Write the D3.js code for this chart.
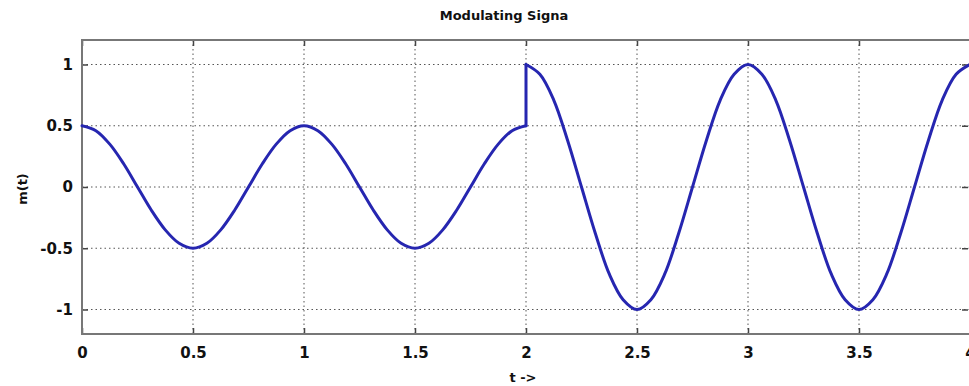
<!DOCTYPE html>
<html>
<head>
<meta charset="utf-8">
<script src="https://cdn.jsdelivr.net/npm/d3@7"></script>
<style>
  body { margin: 0; background: #fff; }
  text { font-family: "DejaVu Sans", sans-serif; font-weight: bold; fill: #111; }
</style>
</head>
<body>
<svg id="chart" width="969" height="386"></svg>
<script>
// t values (every 1/16 s), first half and second half
const tFirst = [0, 0.0625, 0.125, 0.1875, 0.25, 0.3125, 0.375, 0.4375, 0.5, 0.5625, 0.625, 0.6875, 0.75, 0.8125, 0.875, 0.9375,
  1, 1.0625, 1.125, 1.1875, 1.25, 1.3125, 1.375, 1.4375, 1.5, 1.5625, 1.625, 1.6875, 1.75, 1.8125, 1.875, 1.9375, 2];
const mFirst = [0.5, 0.46, 0.35, 0.19, 0, -0.19, -0.35, -0.46, -0.5, -0.46, -0.35, -0.19, 0, 0.19, 0.35, 0.46,
  0.5, 0.46, 0.35, 0.19, 0, -0.19, -0.35, -0.46, -0.5, -0.46, -0.35, -0.19, 0, 0.19, 0.35, 0.46, 0.5];
const tSecond = [2, 2.0625, 2.125, 2.1875, 2.25, 2.3125, 2.375, 2.4375, 2.5, 2.5625, 2.625, 2.6875, 2.75, 2.8125, 2.875, 2.9375,
  3, 3.0625, 3.125, 3.1875, 3.25, 3.3125, 3.375, 3.4375, 3.5, 3.5625, 3.625, 3.6875, 3.75, 3.8125, 3.875, 3.9375, 4];
const mSecond = [1, 0.92, 0.71, 0.38, 0, -0.38, -0.71, -0.92, -1, -0.92, -0.71, -0.38, 0, 0.38, 0.71, 0.92,
  1, 0.92, 0.71, 0.38, 0, -0.38, -0.71, -0.92, -1, -0.92, -0.71, -0.38, 0, 0.38, 0.71, 0.92, 1];
const xTicks = [0, 0.5, 1, 1.5, 2, 2.5, 3, 3.5, 4];
const yTicks = [-1, -0.5, 0, 0.5, 1];

const svg = d3.select("#chart");
const plotL = 82, plotR = 970, plotT = 40, plotB = 334;

const x = d3.scaleLinear().domain([0, 4]).range([plotL, plotR]);
const y = d3.scaleLinear().domain([-1.2, 1.2]).range([plotB, plotT]);

const fmt = d => String(d); // plain hyphen minus like matlab

// dotted grid
const grid = svg.append("g")
  .attr("stroke", "#555")
  .attr("stroke-width", 1)
  .attr("stroke-dasharray", "1.5,3");

grid.selectAll(".gx")
  .data(xTicks.slice(1))
  .enter().append("line")
  .attr("x1", d => x(d)).attr("x2", d => x(d))
  .attr("y1", plotT).attr("y2", plotB);

grid.selectAll(".gy")
  .data(yTicks)
  .enter().append("line")
  .attr("x1", plotL).attr("x2", plotR)
  .attr("y1", d => y(d)).attr("y2", d => y(d));

// axes (ticks inside, like matlab)
const xAxis = d3.axisBottom(x).tickValues(xTicks).tickSize(-6).tickPadding(13).tickFormat(fmt);
const yAxis = d3.axisLeft(y).tickValues(yTicks).tickSize(-6).tickPadding(9).tickFormat(fmt);

svg.append("g").attr("transform", `translate(0,${plotB})`).call(xAxis);
svg.append("g").attr("transform", `translate(${plotL},0)`).call(yAxis);
svg.append("g").attr("transform", `translate(0,${plotT})`)
  .call(d3.axisTop(x).tickValues(xTicks).tickSize(-6).tickFormat(""));
svg.append("g").attr("transform", `translate(${plotR - 2},0)`)
  .call(d3.axisRight(y).tickValues(yTicks).tickSize(-6).tickFormat(""));

svg.selectAll(".domain").remove();
svg.selectAll(".tick line").attr("stroke", "#444").attr("stroke-width", 1.5);
svg.selectAll(".tick text").style("font-size", "15px").attr("fill", "#111");

// frame
svg.append("rect")
  .attr("x", plotL).attr("y", plotT)
  .attr("width", plotR - plotL).attr("height", plotB - plotT)
  .attr("fill", "none")
  .attr("stroke", "#777")
  .attr("stroke-width", 2);

// signal
const first = tFirst.map((t, i) => [t, mFirst[i]]);
const second = tSecond.map((t, i) => [t, mSecond[i]]);
const jump = [[2, mFirst[mFirst.length - 1]], [2, mSecond[0]]];

const smooth = d3.line().x(d => x(d[0])).y(d => y(d[1])).curve(d3.curveCatmullRom);
const straight = d3.line().x(d => x(d[0])).y(d => y(d[1]));

const sig = svg.append("g")
  .attr("fill", "none")
  .attr("stroke", "#2626b0")
  .attr("stroke-width", 3)
  .attr("stroke-linejoin", "round")
  .attr("stroke-linecap", "round");
sig.append("path").attr("d", smooth(first));
sig.append("path").attr("d", straight(jump));
sig.append("path").attr("d", smooth(second));

// labels
svg.append("text")
  .attr("x", 504).attr("y", 20)
  .attr("text-anchor", "middle")
  .style("font-size", "13px")
  .text("Modulating Signa");

svg.append("text")
  .attr("transform", "translate(27,189) rotate(-90)")
  .attr("text-anchor", "middle")
  .style("font-size", "13px")
  .text("m(t)");

svg.append("text")
  .attr("x", 523).attr("y", 382)
  .attr("text-anchor", "middle")
  .style("font-size", "13px")
  .text("t ->");
</script>
</body>
</html>
